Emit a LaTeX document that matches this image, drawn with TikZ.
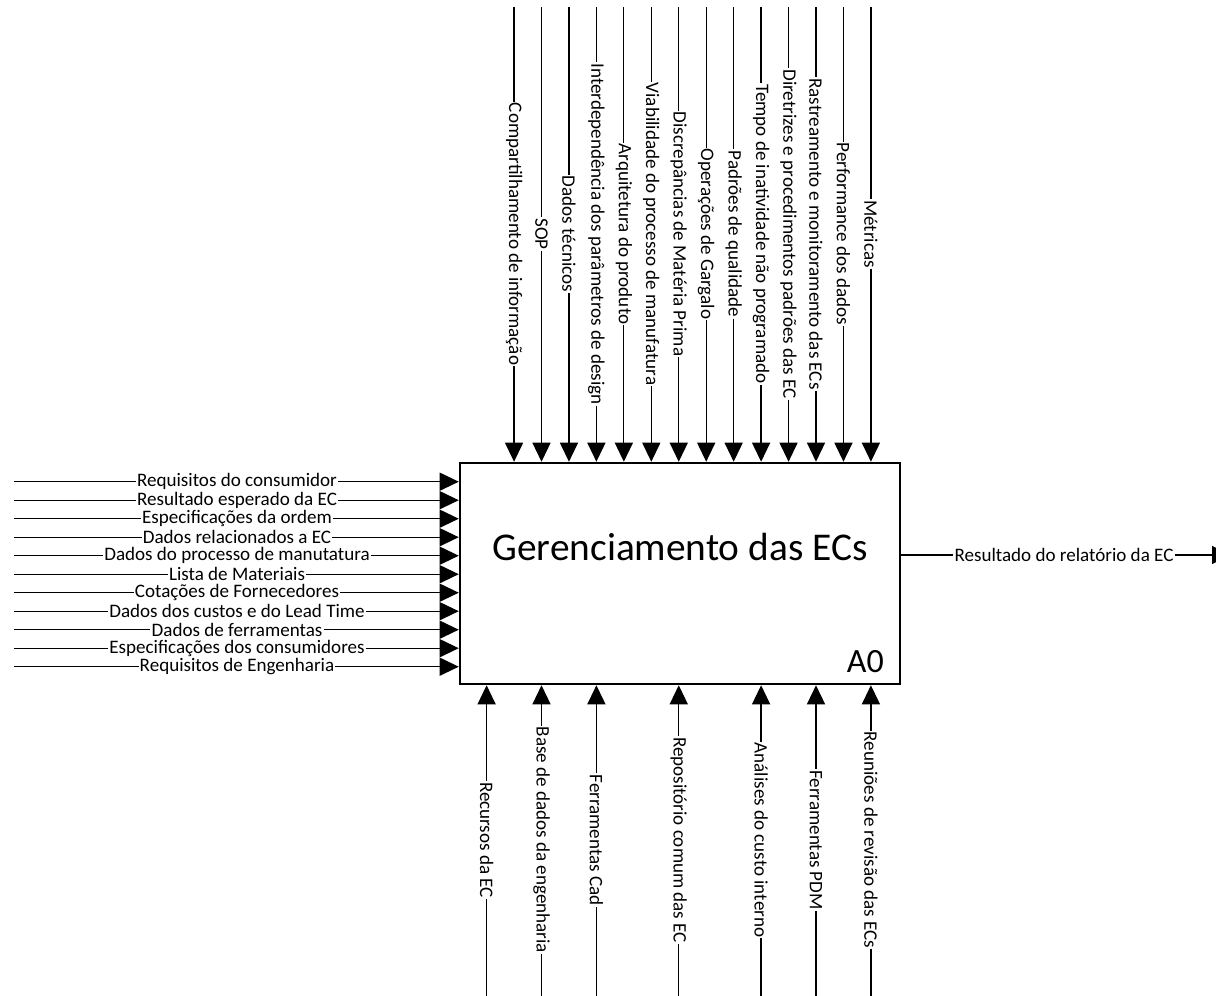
\documentclass[tikz,border=0pt]{standalone}
\usepackage{fontspec}
\setmainfont{Carlito}
\usetikzlibrary{arrows.meta}

\begin{document}
\begin{tikzpicture}[x=0.75pt, y=-0.75pt,
  fn/.style={draw=black, line width=1.9pt, minimum width=330pt, minimum height=165.75pt, inner sep=0pt},
  lbl/.style={inner xsep=0.7pt, inner ysep=0pt, font=\fontsize{14.3}{15}\selectfont},
  vlbl/.style={lbl, rotate=-90},
  arr/.style={-{Triangle[length=14.25pt, width=13.5pt]}, line width=0.95pt, black}]

\useasboundingbox (0,0) rectangle (1216,995);

%% ── activity box ─────────────────────────────────────────
\node[fn] (a0) at (680,573.5) {};
\node[font=\fontsize{29.5}{30}\selectfont, anchor=base] (ttl) at (680,560) {Gerenciamento das ECs};
\node[font=\fontsize{25.5}{26}\selectfont, anchor=base east, inner sep=0pt] (num) at (884,672) {A0};

%% ── inputs (left) ────────────────────────────────────────
\foreach \i/\txt in {0/Requisitos do consumidor, 1/Resultado esperado da EC, 2/Especificações da ordem,
  3/Dados relacionados a EC, 4/Dados do processo de manutatura, 5/Lista de Materiais,
  6/Cotações de Fornecedores, 7/Dados dos custos e do Lead Time, 8/Dados de ferramentas,
  9/Especificações dos consumidores, 10/Requisitos de Engenharia}{
  \coordinate (ins\i) at (14,481.7+18.5*\i);
  \node[lbl] (inl\i) at (237,481.7+18.5*\i) {\txt};
  \draw[arr] (ins\i) -- (inl\i) -- (a0.west |- ins\i);
}

%% ── controls (top) ───────────────────────────────────────
\foreach \k/\txt in {1/Compartilhamento de informação, 2/SOP, 3/Dados técnicos,
  4/Interdependência dos parâmetros de design, 5/Arquitetura do produto,
  6/Viabilidade do processo de manufatura, 7/Discrepâncias de Matéria Prima,
  8/Operações de Gargalo, 9/Padrões de qualidade, 10/Tempo de inatividade não programado,
  11/Diretrizes e procedimentos padrões das EC, 12/Rastreamento e monitoramento das ECs,
  13/Performance dos dados, 14/Métricas}{
  \coordinate (cs\k) at (486.6+27.45*\k,7);
  \node[vlbl] (cl\k) at (486.6+27.45*\k,234) {\txt};
  \draw[arr] (cs\k) -- (cl\k) -- (a0.north -| cs\k);
}

%% ── mechanisms (bottom) ──────────────────────────────────
\foreach \k/\txt in {0/Recursos da EC, 2/Base de dados da engenharia, 4/Ferramentas Cad,
  7/Repositório comum das EC, 10/Análises do custo interno, 12/Ferramentas PDM,
  14/Reuniões de revisão das ECs}{
  \coordinate (ms\k) at (486.6+27.45*\k,1000);
  \node[vlbl] (ml\k) at (486.6+27.45*\k,840) {\txt};
  \draw[arr] (ms\k) -- (ml\k) -- (a0.south -| ms\k);
}

%% ── output (right) ───────────────────────────────────────
\coordinate (oe) at (1231,555);
\node[lbl] (ol) at (1064,555) {Resultado do relatório da EC};
\draw[arr] (a0.east |- ol) -- (ol) -- (oe);
\end{tikzpicture}
\end{document}
